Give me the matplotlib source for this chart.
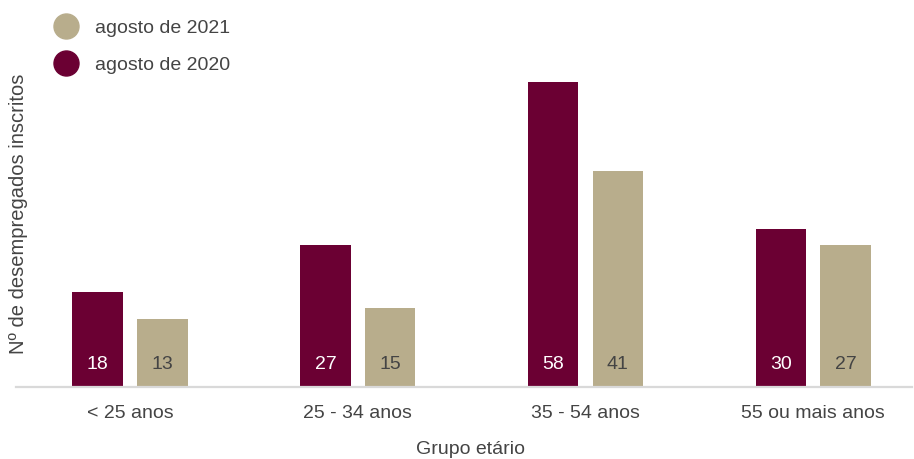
import matplotlib
matplotlib.use("Agg")
from matplotlib import pyplot as plt
from matplotlib.lines import Line2D
import numpy as np

plt.rcParams['font.family'] = ['Liberation Sans', 'DejaVu Sans']

grupos = ["< 25 anos", "25 - 34 anos", "35 - 54 anos", "55 ou mais anos"]
valores_2020 = [18, 27, 58, 30]
valores_2021 = [13, 15, 41, 27]

cor_2020 = "#6b0033"
cor_2021 = "#b8ad8c"
cor_texto = "#444444"

fig = plt.figure(figsize=(9.14, 4.59), dpi=100)
ax = fig.add_axes([16 / 914, 72 / 459, 896 / 914, 368 / 459])

x = np.arange(len(grupos))
largura = 0.222
desvio = 0.142

ax.bar(x - desvio, valores_2020, largura, color=cor_2020)
ax.bar(x + desvio, valores_2021, largura, color=cor_2021)

# valores dentro das barras
for i in range(len(grupos)):
    ax.annotate(str(valores_2020[i]), (x[i] - desvio, 0), xytext=(0, 16),
                textcoords='offset points', ha='center', va='center',
                color='white', fontsize=14)
    ax.annotate(str(valores_2021[i]), (x[i] + desvio, 0), xytext=(0, 16),
                textcoords='offset points', ha='center', va='center',
                color=cor_texto, fontsize=14)

ax.set_xlim(-0.5007, 3.434)
ax.set_ylim(0, 70)

for lado in ['top', 'right', 'left']:
    ax.spines[lado].set_visible(False)
ax.spines['bottom'].set_color('#d9d9d9')
ax.spines['bottom'].set_linewidth(1.6)

ax.set_yticks([])
ax.set_xticks(x)
ax.set_xticklabels(grupos, fontsize=14, color=cor_texto)
ax.tick_params(axis='x', length=0, pad=13)

fig.text(470 / 914, 1 - 449 / 459, "Grupo etário", ha='center', va='center',
         fontsize=14, color=cor_texto)
fig.text(19 / 914, 1 - 214 / 459, "Nº de desempregados inscritos", ha='center',
         va='center', rotation=90, fontsize=14.5, color=cor_texto)

# legenda
handles = [
    Line2D([], [], marker='o', linestyle='', markersize=18, color=cor_2021),
    Line2D([], [], marker='o', linestyle='', markersize=18, color=cor_2020),
]
fig.legend(handles, ["agosto de 2021", "agosto de 2020"], loc='upper left',
           bbox_to_anchor=(37 / 914, 1 - 1.5 / 459), frameon=False,
           fontsize=14, labelcolor=cor_texto, handletextpad=0.86,
           labelspacing=1.0, handlelength=1.2)

fig.savefig("out.png", dpi=100)
